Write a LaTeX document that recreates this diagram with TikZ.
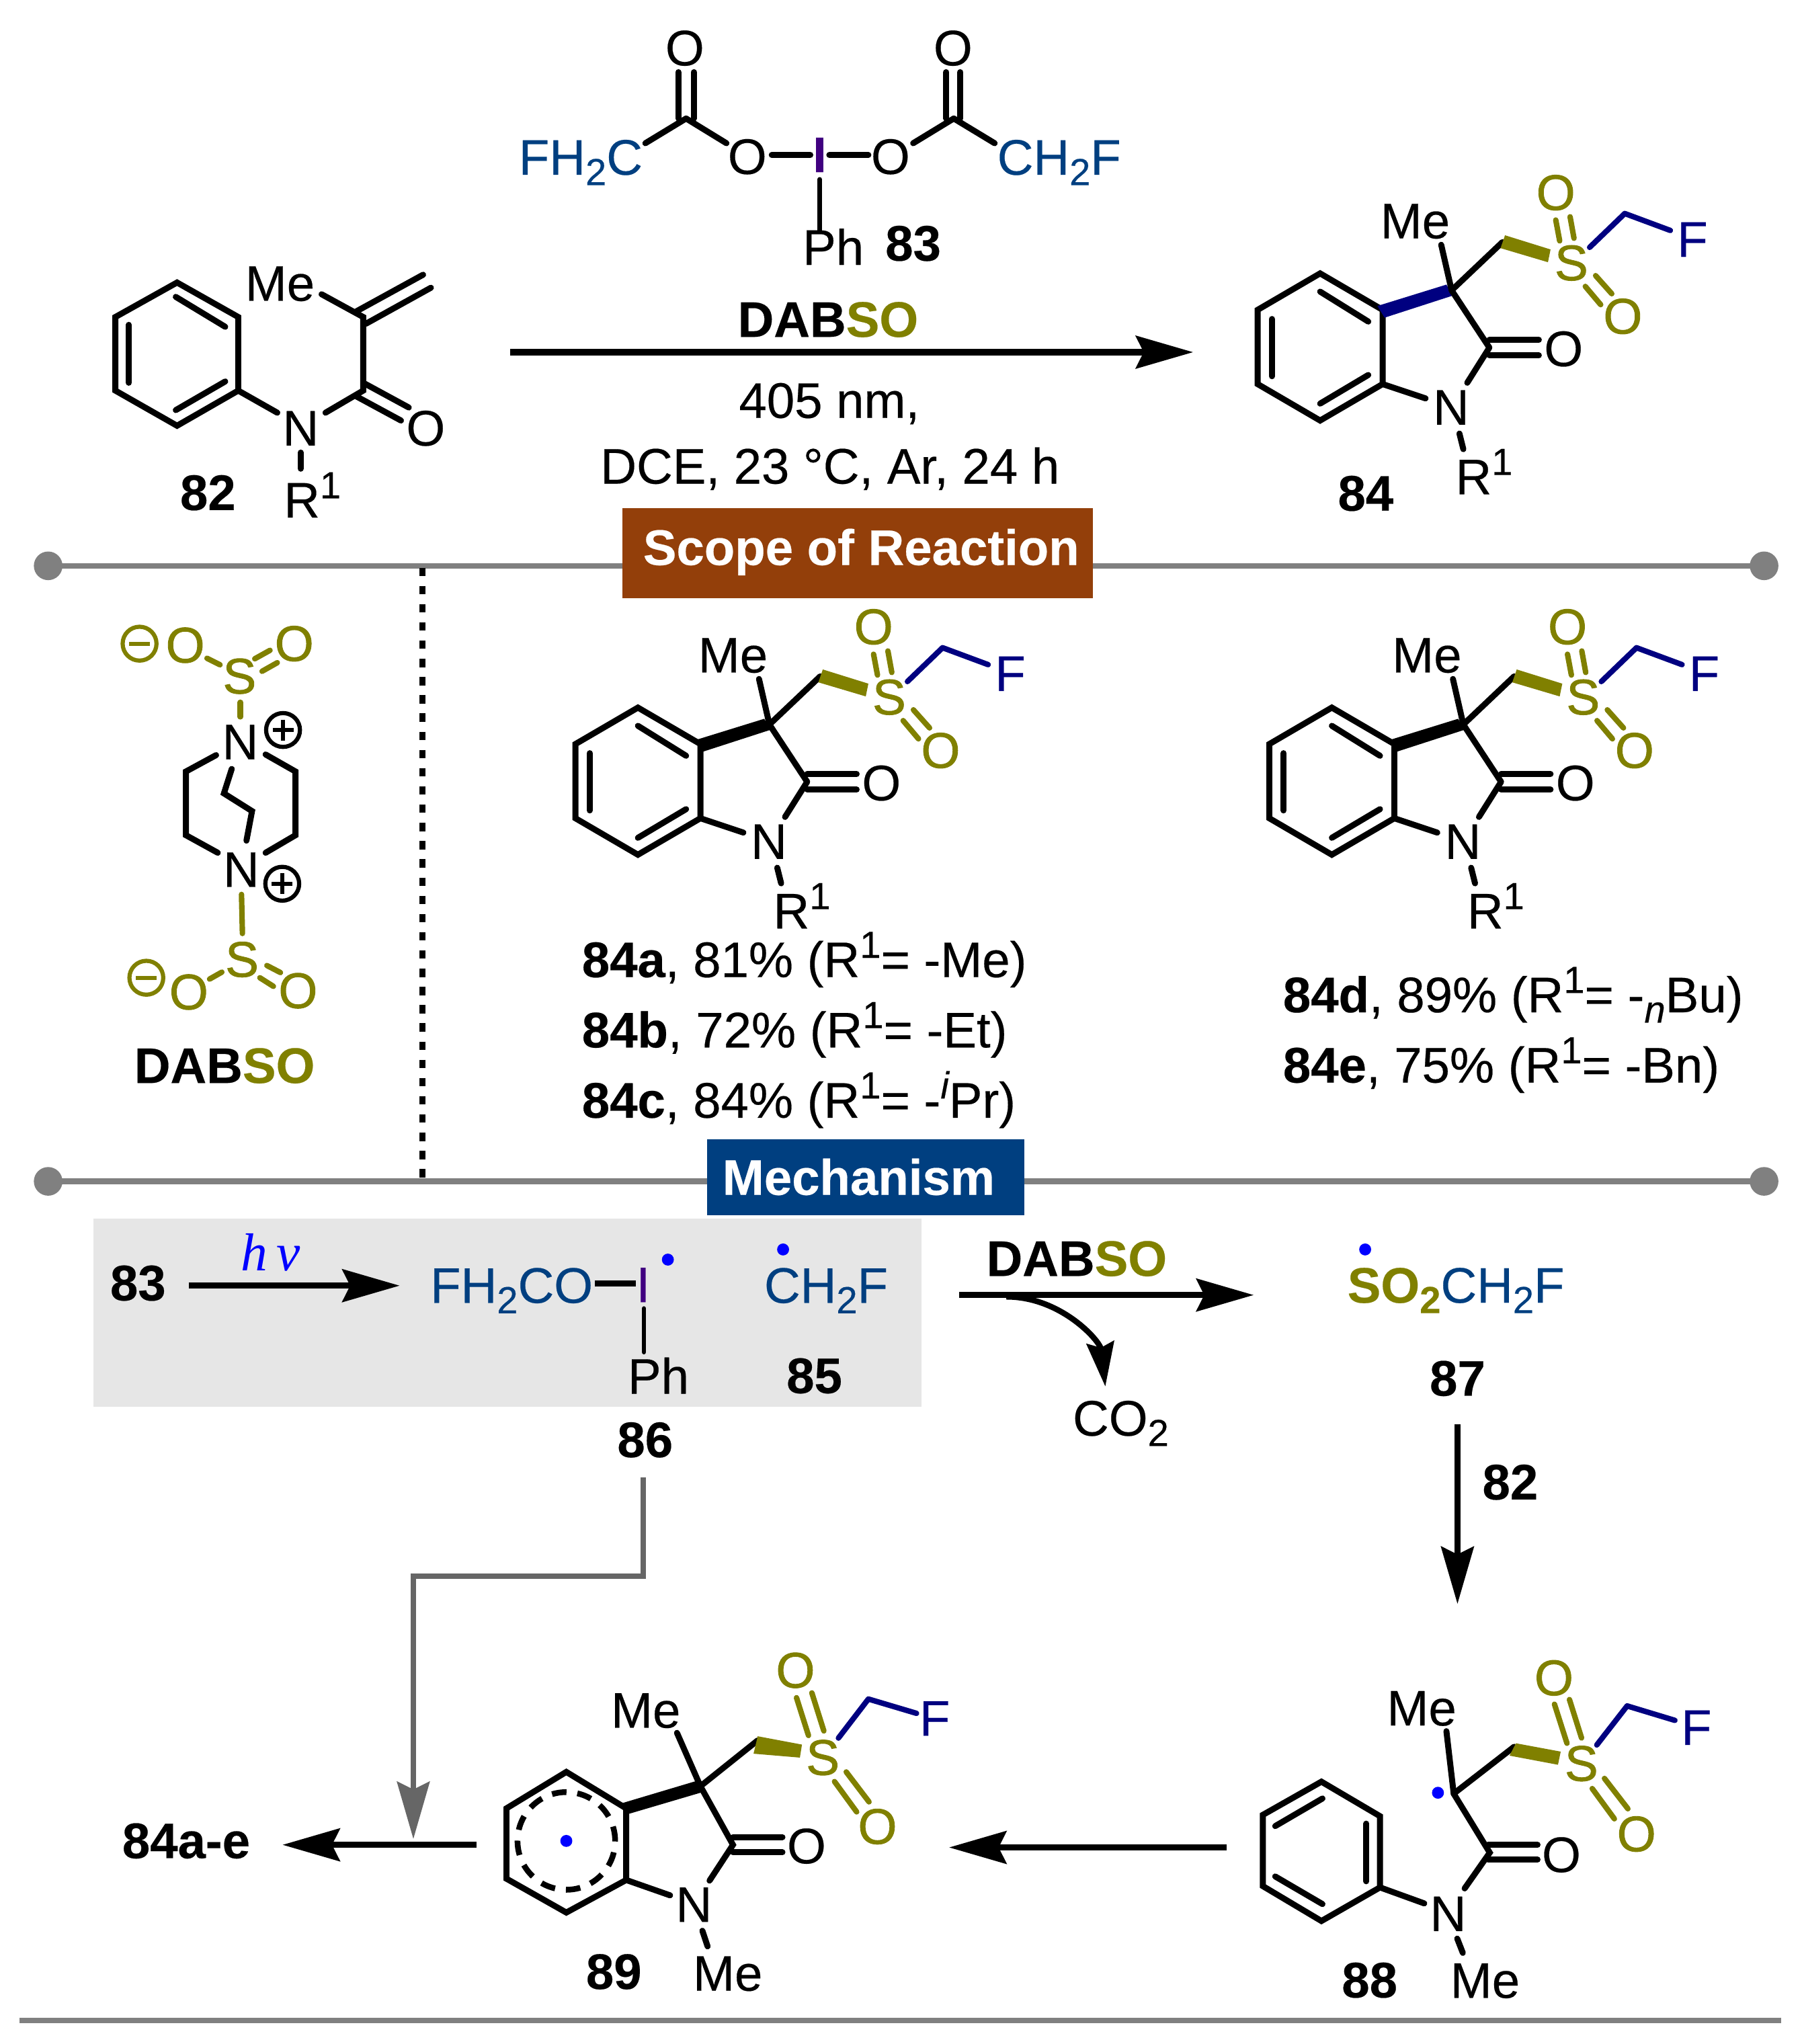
\documentclass[tikz,border=0pt]{standalone}
\usepackage{fontspec}
\setmainfont[FakeBold=0.3]{Liberation Sans}
\newfontfamily\serifit[ItalicFont=Liberation Serif Italic]{Liberation Serif}
\usetikzlibrary{arrows.meta,calc}
\definecolor{olv}{HTML}{808000}
\definecolor{nvy}{HTML}{000080}
\definecolor{tblue}{HTML}{003F80}
\definecolor{iod}{HTML}{400080}
\definecolor{dotb}{HTML}{0000FF}
\definecolor{grayline}{HTML}{808080}
\definecolor{grayarr}{HTML}{666666}
\definecolor{brownb}{HTML}{933F0A}
\definecolor{blueb}{HTML}{003F80}
\definecolor{boxg}{HTML}{E6E6E6}
\newcommand\subt[1]{\raisebox{-4pt}{\fontsize{14.5}{15}\selectfont #1}}
\newcommand\supt[1]{\raisebox{7.4pt}{\fontsize{14.5}{15}\selectfont #1}}
\newcommand\dabso{\textbf{DAB\textcolor{olv}{SO}}}
\tikzset{
  txt/.style={inner sep=0pt,outer sep=0pt,font=\fontsize{19.2}{23}\selectfont},
  bold/.style={txt,font=\fontsize{19.2}{23}\selectfont\bfseries},
  bas/.style={txt,anchor=base west},
  olvt/.style={txt,text=olv,font=\fontsize{19.2}{23}\selectfont\addfontfeature{FakeBold=1.2}},
  nvyt/.style={txt,text=nvy},
  bnd/.style={line width=2.3pt,line cap=round,line join=miter,black},
  olvb/.style={line width=2.1pt,line cap=round,olv},
  nvyb/.style={line width=2.1pt,line cap=round,line join=round,nvy},
  arr/.style={line width=2.4pt,black,-{Stealth[length=22pt,width=12.5pt,inset=3pt]}},
  sep/.style={line width=2.2pt,grayline},
  raddot/.style={fill=dotb,draw=none},
}
% radical dot
\newcommand\rdot[2]{\fill[raddot] (#1,#2) circle[radius=2.3pt];}
% circled charges
\newcommand\chgm[2]{\draw[line width=1.6pt,olv] (#1,#2) circle[radius=6.5pt];
  \draw[line width=1.6pt,olv] ($(#1,#2)+(-8,0)$) -- ($(#1,#2)+(8,0)$);}
\newcommand\chgp[2]{\draw[line width=1.6pt,black] (#1,#2) circle[radius=6.5pt];
  \draw[line width=1.6pt,black] ($(#1,#2)+(-8,0)$) -- ($(#1,#2)+(8,0)$);
  \draw[line width=1.6pt,black] ($(#1,#2)+(0,-8)$) -- ($(#1,#2)+(0,8)$);}
% sulfonyl oxindole, drawn at the coordinates of 84 and shifted
\newcommand\oxin[4]{%
\begin{scope}[shift={(#2,#3)}]
  \draw[bnd] (1014,210) -- (966,238) -- (966,295) -- (1014,323) -- (1062,295) -- (1062,238) -- cycle;
  \draw[bnd] (977,245) -- (977,289);
  \draw[bnd] (1014,224) -- (1051,247);
  \draw[bnd] (1014,310) -- (1051,288);
  \fill[#4] (1058,235) -- (1111,218.6) -- (1116,227) -- (1063.5,244) -- cycle;
  \draw[bnd] (1062,295) -- (1095,306);
  \draw[bnd,line cap=butt] (1115,223) -- (1144,267);
  \draw[bnd] (1144,267) -- (1127,294);
  \draw[bnd] (1144,261) -- (1182,261);
  \draw[bnd] (1144,273) -- (1182,273);
  \draw[bnd] (1115,223) -- (1107,188);
  \draw[bnd] (1115,223) -- (1154,186);
  \fill[olv] (1156,180.7) -- (1191,191.6) -- (1189,201.4) -- (1152.6,190.6) -- cycle;
  \draw[olvb] (1195,169) -- (1198,185);
  \draw[olvb] (1206,166.5) -- (1209,183);
  \draw[olvb] (1217.7,220) -- (1229.5,234);
  \draw[olvb] (1225.6,211.7) -- (1238,225.6);
  \draw[nvyb] (1221,190) -- (1248,164) -- (1283,177);
  \draw[bnd] (1121,333) -- (1124,345);
  \node[txt] (#1N) at (1114.6,313) {N};
  \node[txt] (#1O) at (1201,268) {O};
  \node[txt] (#1Me) at (1087,170) {Me};
  \node[olvt] (#1S) at (1207,202) {S};
  \node[olvt] (#1Oa) at (1195,148) {O};
  \node[olvt] (#1Ob) at (1246.5,243) {O};
  \node[nvyt] (#1F) at (1300,184) {F};
  \node[bas] (#1R) at (1118,379.6) {R\supt{1}};
\end{scope}}
\begin{document}
\begin{tikzpicture}[x=0.5pt,y=-0.5pt]
\useasboundingbox (0,0) rectangle (1384,1570);
% ---- separators
\draw[sep] (37,434.6) -- (1355,434.6);
\fill[grayline] (37,434.6) circle[radius=5.5pt] (1355,434.6) circle[radius=5.5pt];
\draw[sep] (37,907.4) -- (1355,907.4);
\fill[grayline] (37,907.4) circle[radius=5.5pt] (1355,907.4) circle[radius=5.5pt];
\draw[sep] (15,1552) -- (1368,1552);
\draw[line width=2.1pt,dash pattern=on 3.2pt off 3.8pt] (324.5,436) -- (324.5,905);
\node[fill=brownb,minimum width=180.7pt,minimum height=34.7pt,inner sep=0pt] (scope) at (659,425) {};
\node[bold,text=white] (scopet) at (661.5,424) {Scope of Reaction};
\node[fill=blueb,minimum width=121.7pt,minimum height=29pt,inner sep=0pt] (mech) at (665,904.3) {};
\node[bold,text=white] (mecht) at (659.5,904) {Mechanism};
\node[fill=boxg,minimum width=318pt,minimum height=72.5pt,inner sep=0pt] (box) at (390,1008.3) {};
% ---- 82
\draw[bnd] (136,217) -- (88.6,243.5) -- (88.6,300) -- (136,327) -- (183,300) -- (183,243.5) -- cycle;
\draw[bnd] (99,249.5) -- (99,294);
\draw[bnd] (135,228) -- (173,251);
\draw[bnd] (135,315) -- (173,293);
\draw[bnd] (183,300) -- (213,317);
\draw[bnd] (250,317) -- (279,300) -- (279,243.5) -- (247,226);
\draw[bnd] (274,239) -- (325,211);
\draw[bnd] (281,248.7) -- (331,221);
\draw[bnd] (279,294) -- (314,313);
\draw[bnd] (274,304.6) -- (308,323);
\draw[bnd] (231,347.6) -- (231,360);
\node[txt] (n82) at (231,329) {N};
\node[txt] (o82) at (327,329) {O};
\node[txt] (me82) at (215,218) {Me};
\node[bas] (r82) at (218,397.5) {R\supt{1}};
\node[bold] (l82) at (159.7,378.5) {82};
% ---- 83
\draw[bnd] (521,55.4) -- (521,91);
\draw[bnd] (533,55.4) -- (533,91);
\draw[bnd,line join=round] (495.7,110) -- (527,91) -- (558,110);
\draw[bnd] (726.8,55.4) -- (726.8,91);
\draw[bnd] (737.6,55.4) -- (737.6,91);
\draw[bnd,line join=round] (701.4,110) -- (732.6,91) -- (764,110);
\draw[bnd] (592.8,119) -- (622.4,119);
\draw[bnd] (637,119) -- (667,119);
\draw[line width=1.7pt,line cap=round] (629.6,137.7) -- (629.6,176.7);
\node[txt] (oa83) at (526,37) {O};
\node[txt] (ob83) at (732,37) {O};
\node[txt] (oc83) at (574,120.4) {O};
\node[txt] (od83) at (684,120.4) {O};
\node[bold,text=iod] (i83) at (629.6,119) {I};
\node[bas,text=tblue] (fa83) at (398.5,134.2) {FH\subt{2}C};
\node[bas,text=tblue] (fb83) at (766,134.2) {CH\subt{2}F};
\node[txt] (ph83) at (640,189.5) {Ph};
\node[bold] (l83) at (701.4,187) {83};
\node[txt] (dab1) at (636,245.5) {\dabso};
\coordinate (a1s) at (392,270.5); \coordinate (a1e) at (916.5,270.5);
\draw[arr] (a1s) -- (a1e);
\node[txt] (c1) at (637,310) {405 nm,};
\node[txt] (c2) at (637.5,360) {DCE, 23 °C, Ar, 24 h};
% ---- 84, 84a, 84d
\oxin{p}{0}{0}{nvy}
\node[bold] (l84) at (1049,379) {84};
\oxin{q}{-524}{333.5}{black}
\oxin{u}{9}{333.5}{black}
\node[bas] (t1) at (447,750.5) {\textbf{84a}, 81\% (R\supt{1}= -Me)};
\node[bas] (t2) at (447,804.5) {\textbf{84b}, 72\% (R\supt{1}= -Et)};
\node[bas] (t3) at (447,858.5) {\textbf{84c}, 84\% (R\supt{1}= -\supt{\itshape i}Pr)};
\node[bas] (t4) at (985.5,777.5) {\textbf{84d}, 89\% (R\supt{1}= -\subt{\itshape n}Bu)};
\node[bas] (t5) at (985.5,831.5) {\textbf{84e}, 75\% (R\supt{1}= -Bn)};
% ---- DABSO
\draw[olvb] (159,505.6) -- (169,510.6);
\draw[olvb] (195.7,506) -- (207.4,499.5);
\draw[olvb] (201.3,515.6) -- (213,509);
\draw[olvb] (184.6,539.4) -- (184.6,550.6);
\draw[bnd] (166,580) -- (142.8,592.6) -- (142.8,641.5) -- (167.3,655);
\draw[bnd] (204,579.5) -- (227,592.6) -- (227,641.5) -- (204,655);
\draw[bnd] (178,590.6) -- (172,609.4) -- (193.6,623) -- (189.3,645.7);
\draw[olvb] (185.5,687) -- (186.2,717);
\draw[olvb] (161,752) -- (170.4,746.7);
\draw[olvb] (205,741.6) -- (215.4,747);
\draw[olvb] (199.6,751) -- (210,757.6);
\node[txt] (na) at (184.5,570) {N};
\node[txt] (nb) at (185.3,668) {N};
\node[olvt] (oa) at (142.3,495.6) {O};
\node[olvt] (ob) at (226,494.4) {O};
\node[olvt] (sa) at (184,519.4) {S};
\node[olvt] (sb) at (185.9,737) {S};
\node[olvt] (oc) at (145,762) {O};
\node[olvt] (od) at (228.9,761) {O};
\chgm{107.2}{494.4}
\chgm{112.4}{751}
\chgp{217.4}{560.7}
\chgp{216.8}{678.8}
\node[txt] (dab2) at (172.5,818.6) {\dabso};
% ---- mechanism, row 1
\node[bold] (l83b) at (106,985.6) {83};
\coordinate (a2s) at (145,987.5); \coordinate (a2e) at (307,987.5);
\draw[arr] (a2s) -- (a2e);
\node[txt,text=dotb,font=\fontsize{20.5}{23}\selectfont\serifit\itshape] (hv) at (208,962) {h\,ν};
\node[bas,text=tblue] (f86) at (330.5,1000.7) {FH\subt{2}CO};
\draw[bnd,line cap=butt] (457,986) -- (488.6,986);
\node[txt,text=iod] (i86) at (494,987) {I};
\draw[line width=1.7pt,line cap=round] (494.6,1005) -- (494.6,1038.6);
\node[txt] (ph86) at (505.7,1056.6) {Ph};
\node[bold] (l85) at (625.5,1056.8) {85};
\node[bold] (l86) at (495.5,1106) {86};
\rdot{513}{967.5}
\node[bas,text=tblue] (c85) at (587,1000.7) {CH\subt{2}F};
\rdot{601.5}{959.7}
\node[txt] (dab3) at (827,966.8) {\dabso};
\coordinate (a3s) at (736.6,994.7); \coordinate (a3e) at (963,994.7);
\draw[arr] (a3s) -- (a3e);
\coordinate (a4s) at (773,996); \coordinate (a4e) at (849,1065);
\draw[line width=2.2pt,-{Stealth[length=17pt,width=10.5pt,inset=2pt]}] (a4s) .. controls (815,996) and (845,1030) .. (a4e);
\node[bas] (co2) at (824,1102.7) {CO\subt{2}};
\node[bas,text=tblue] (s87) at (1035,1000.6) {\textcolor{olv}{\textbf{SO}\subt{\bfseries 2}}CH\subt{2}F};
\rdot{1048.6}{959.7}
\node[bold] (l87) at (1119.5,1058.8) {87};
\coordinate (a5s) at (1119.5,1094); \coordinate (a5e) at (1119.5,1232);
\draw[arr] (a5s) -- (a5e);
\node[bold] (l82b) at (1160,1138.5) {82};
% ---- 88
\draw[bnd] (1015,1368.5) -- (970,1394) -- (970,1448.7) -- (1015,1475.5) -- (1060,1449.7) -- (1060,1395) -- cycle;
\draw[bnd] (979.5,1402.6) -- (1015.8,1381.4);
\draw[bnd] (1049.5,1400.7) -- (1049.5,1445);
\draw[bnd] (979.5,1441.3) -- (1015.8,1462.5);
\draw[bnd] (1060,1449.7) -- (1094,1462);
\draw[bnd] (1125,1450.5) -- (1144.3,1423) -- (1116.6,1377.7) -- (1111,1329.7);
\draw[bnd] (1116.6,1377.7) -- (1163,1341.7);
\fill[olv] (1164.4,1339) -- (1198.8,1345.4) -- (1196.7,1355.5) -- (1159.5,1348.5) -- cycle;
\draw[bnd] (1143,1417) -- (1181,1417);
\draw[bnd] (1143,1428.4) -- (1181,1428.4);
\draw[bnd] (1119.3,1489) -- (1123.6,1500);
\draw[olvb] (1194,1309) -- (1203.6,1339);
\draw[olvb] (1205.5,1305.4) -- (1214.8,1334.9);
\draw[olvb] (1223,1373.8) -- (1240,1397);
\draw[olvb] (1232.4,1366) -- (1250.4,1389.3);
\draw[nvyb] (1226.5,1340.3) -- (1249.8,1310.3) -- (1286.5,1321.4);
\rdot{1104.5}{1377}
\node[txt] (n88) at (1112.3,1470) {N};
\node[txt] (o88) at (1199.3,1424.7) {O};
\node[txt] (mea88) at (1092,1312.3) {Me};
\node[txt] (meb88) at (1140.7,1521.5) {Me};
\node[olvt] (s88) at (1214.7,1354.6) {S};
\node[olvt] (oa88) at (1193.6,1288.8) {O};
\node[olvt] (ob88) at (1257,1408.7) {O};
\node[nvyt] (f88) at (1303,1327) {F};
\node[bold] (l88) at (1052,1521) {88};
% ---- 89
\draw[bnd] (435,1361) -- (389,1389) -- (389,1443) -- (435,1469) -- (481,1444) -- (481,1389) -- cycle;
\draw[line width=2.2pt,dash pattern=on 5.6pt off 4.2pt] (435,1414) circle[radius=18.75pt];
\fill[dotb] (435,1414) circle[radius=2.3pt];
\fill[black] (477.8,1385) -- (536.4,1367.5) -- (540,1376.4) -- (482,1393.5) -- cycle;
\draw[bnd] (481,1444) -- (514.7,1455.8);
\draw[bnd] (545,1444.5) -- (563,1417) -- (538,1372) -- (520,1331);
\draw[bnd] (538,1372) -- (582,1336.8);
\fill[olv] (582,1333.6) -- (616,1340) -- (614.4,1350) -- (578.8,1347) -- cycle;
\draw[bnd] (563,1411) -- (601,1411);
\draw[bnd] (563,1422.8) -- (601,1422.8);
\draw[bnd] (539.5,1483) -- (543.5,1495);
\draw[olvb] (611.8,1304) -- (621,1333);
\draw[olvb] (623.6,1300.3) -- (632.8,1329.5);
\draw[olvb] (641,1368.4) -- (658,1391.7);
\draw[olvb] (650,1361) -- (667.5,1384);
\draw[nvyb] (644,1335) -- (667,1305) -- (704,1316);
\node[txt] (n89) at (533,1463) {N};
\node[txt] (o89) at (619.5,1418) {O};
\node[txt] (mea89) at (496,1314) {Me};
\node[txt] (meb89) at (559,1516) {Me};
\node[olvt] (s89) at (632,1350) {S};
\node[olvt] (oa89) at (611,1283) {O};
\node[olvt] (ob89) at (674,1403) {O};
\node[nvyt] (f89) at (718,1320) {F};
\node[bold] (l89) at (471.5,1514.5) {89};
% ---- lower arrows
\coordinate (a6s) at (942,1419); \coordinate (a6e) at (729,1419);
\draw[arr] (a6s) -- (a6e);
\coordinate (a7s) at (366,1417); \coordinate (a7e) at (217,1417);
\draw[arr] (a7s) -- (a7e);
\node[bold] (prod) at (143,1414) {84a-e};
\coordinate (g1) at (494,1135); \coordinate (g2) at (494,1210.5); \coordinate (g3) at (317.5,1210.5); \coordinate (g4) at (317.5,1412.5);
\draw[line width=2pt,grayarr,line join=miter,-{Stealth[length=22pt,width=12.5pt,inset=3pt]}] (g1) -- (g2) -- (g3) -- (g4);
\end{tikzpicture}
\end{document}
